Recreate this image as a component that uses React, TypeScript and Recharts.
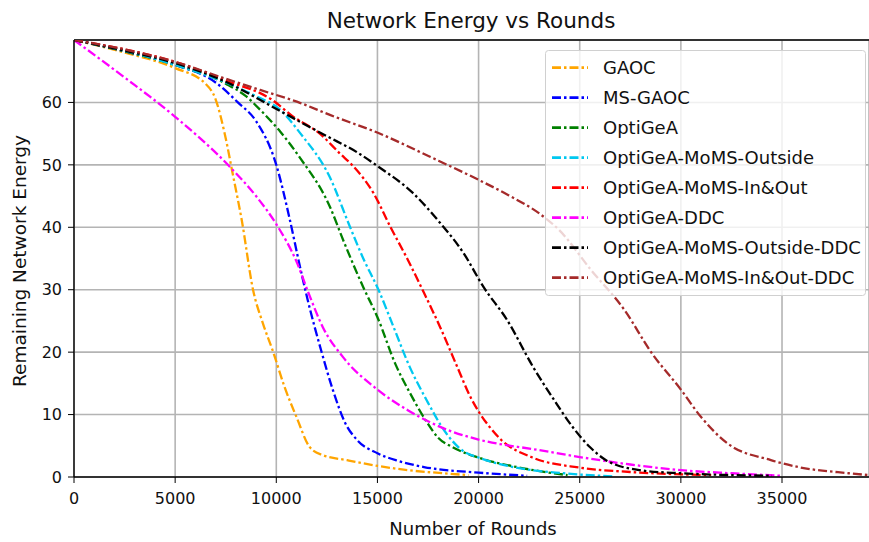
import React from 'react';
import { LineChart, Line, XAxis, YAxis, CartesianGrid, ReferenceLine } from 'recharts';

// [rounds, remaining energy]
const gaoc: [number, number][] = [
  [0, 70], [2500, 68], [5000, 65.5], [6500, 63], [7000, 60.5], [7450, 55], [7850, 48.5],
  [8300, 41], [8850, 30], [9350, 24.5], [9850, 20], [10400, 14.5], [11000, 9.6],
  [11650, 4.8], [12300, 3.5], [13500, 2.7], [14800, 1.9], [16500, 1.1], [18250, 0.6], [19500, 0.3],
];
const msGaoc: [number, number][] = [
  [0, 70], [2500, 68.2], [5000, 66], [7000, 63.2], [8100, 60], [9000, 57], [10000, 50],
  [10650, 41.5], [11150, 34], [11550, 28.4], [12250, 19.9], [12800, 13.9], [13400, 8.7],
  [14000, 5.9], [15000, 3.8], [16000, 2.6], [17300, 1.6], [20000, 0.7], [22400, 0.2],
];
const optigea: [number, number][] = [
  [0, 70], [2500, 68.2], [5000, 66], [7500, 63], [8500, 61], [9300, 58.5], [10200, 55.3],
  [11200, 51], [12650, 43.3], [13300, 38], [14300, 30.4], [15000, 25.6], [15900, 18],
  [16600, 13.5], [17400, 9], [18000, 6.3], [18700, 4.8], [20000, 3.1], [22200, 1.4], [24400, 0.3],
];
const optigeaOutside: [number, number][] = [
  [0, 70], [2500, 68.3], [5000, 66], [7500, 63.2], [9000, 61], [10200, 58.8], [11200, 55],
  [12650, 48], [13650, 40], [14300, 35], [15050, 30], [15800, 24], [16600, 17.6],
  [17400, 12.5], [18400, 7], [19100, 4.5], [20100, 3], [21700, 1.6], [24200, 0.6], [26700, 0.1],
];
const optigeaInOut: [number, number][] = [
  [0, 70], [2500, 68.5], [5000, 66.5], [7500, 63.5], [9800, 60.4], [10800, 57.8], [12150, 55],
  [13150, 51.8], [13800, 49.8], [14800, 45.5], [15650, 40], [16500, 34.8], [17300, 29.5],
  [18100, 24], [18950, 17.6], [19600, 12.8], [20100, 10], [20600, 7.8], [21100, 6],
  [22600, 3.2], [25000, 1.5], [27500, 0.8], [31500, 0.3],
];
const optigeaDdc: [number, number][] = [
  [0, 70], [2500, 64], [5000, 57.7], [7700, 49.7], [9000, 45], [10000, 40.5], [11000, 34.5],
  [11650, 29], [12300, 24], [13300, 19.2], [15000, 14], [16500, 10.7], [18500, 7.5],
  [20000, 6], [23000, 4.3], [25000, 3.2], [27500, 2], [30000, 1.1], [32500, 0.6], [35000, 0.2],
];
const optigeaOutsideDdc: [number, number][] = [
  [0, 70], [2500, 68.3], [5000, 66.3], [7500, 63.3], [9700, 59.5], [11000, 57.2], [12500, 54.6],
  [14000, 52], [15050, 49.7], [16750, 45.5], [18100, 40.7], [19250, 35.9], [20250, 30.4],
  [21400, 25.2], [22700, 17.6], [23700, 12.5], [24650, 8], [25500, 4.8], [26300, 2.7],
  [27950, 1.1], [30000, 0.6], [34500, 0.2],
];
const optigeaInOutDdc: [number, number][] = [
  [0, 70], [2500, 68.5], [5000, 66.5], [7500, 63.8], [9200, 62], [11200, 59.9], [12650, 58],
  [15050, 55.1], [17600, 51.3], [20000, 47.6], [21500, 45.1], [23050, 42.1], [24000, 39.5],
  [25550, 33.2], [27200, 26.8], [28550, 19.9], [30000, 14], [31000, 9.6], [32300, 5.4],
  [34450, 2.7], [35800, 1.6], [38300, 0.6], [39300, 0.3],
];

const xTicks = [0, 5000, 10000, 15000, 20000, 25000, 30000, 35000];
const yTicks = [0, 10, 20, 30, 40, 50, 60];

const series = [
  { name: 'GAOC', color: '#ffa500', data: gaoc },
  { name: 'MS-GAOC', color: '#0000ff', data: msGaoc },
  { name: 'OptiGeA', color: '#008000', data: optigea },
  { name: 'OptiGeA-MoMS-Outside', color: '#00c8f0', data: optigeaOutside },
  { name: 'OptiGeA-MoMS-In&Out', color: '#ff0000', data: optigeaInOut },
  { name: 'OptiGeA-DDC', color: '#ff00ff', data: optigeaDdc },
  { name: 'OptiGeA-MoMS-Outside-DDC', color: '#000000', data: optigeaOutsideDdc },
  { name: 'OptiGeA-MoMS-In&Out-DDC', color: '#a52a2a', data: optigeaInOutDdc },
];

const DASH = '9 3 2.5 3';
const FONT = '"DejaVu Sans", sans-serif';

const App: React.FC = () => {
  return (
    <div style={{ position: 'relative', width: 869, height: 542, fontFamily: FONT, background: '#fff' }}>
      <style>{'body{margin:0}'}</style>
      <LineChart width={869} height={542} margin={{ top: 40, right: 0, bottom: 35, left: 0 }}>
        <CartesianGrid stroke="#b4b4b4" strokeWidth={1.6} />
        <XAxis
          type="number"
          dataKey="r"
          domain={[0, 39300]}
          ticks={xTicks}
          interval={0}
          height={30}
          tickSize={6}
          tickMargin={10}
          axisLine={{ stroke: '#000', strokeWidth: 1.4 }}
          tickLine={{ stroke: '#000' }}
          tick={{ fontSize: 16, fill: '#111', fontFamily: FONT }}
          allowDataOverflow
        />
        <YAxis
          type="number"
          domain={[0, 70]}
          ticks={yTicks}
          interval={0}
          width={74}
          tickSize={6}
          tickMargin={6}
          axisLine={{ stroke: '#000', strokeWidth: 1.4 }}
          tickLine={{ stroke: '#000' }}
          tick={{ fontSize: 16, fill: '#111', fontFamily: FONT }}
          allowDataOverflow
        />
        <ReferenceLine y={70} stroke="#000" strokeWidth={1.4} />
        {series.map((s) => (
          <Line
            key={s.name}
            data={s.data.map(([r, v]) => ({ r, v }))}
            dataKey="v"
            type="monotone"
            stroke={s.color}
            strokeWidth={2.3}
            strokeDasharray={DASH}
            dot={false}
            isAnimationActive={false}
          />
        ))}
      </LineChart>

      <svg width={869} height={542} style={{ position: 'absolute', left: 0, top: 0, pointerEvents: 'none' }}>
        <text x={471} y={28} textAnchor="middle" fontSize={21.5} fill="#111" fontFamily={FONT}>
          Network Energy vs Rounds
        </text>
        <text x={473} y={535} textAnchor="middle" fontSize={18} fill="#111" fontFamily={FONT}>
          Number of Rounds
        </text>
        <text
          x={0}
          y={0}
          transform="translate(26,261) rotate(-90)"
          textAnchor="middle"
          fontSize={18.5}
          fill="#111"
          fontFamily={FONT}
        >
          Remaining Network Energy
        </text>
        <rect x={545.5} y={50.5} width={320} height={245} rx={3} fill="rgba(255,255,255,0.8)" stroke="#d0d0d0" />
        {series.map((s, i) => {
          const cy = 67.7 + i * 30;
          return (
            <g key={s.name}>
              <line x1={552} y1={cy} x2={588} y2={cy} stroke={s.color} strokeWidth={2.8} strokeDasharray={DASH} />
              <text x={603} y={cy + 6.5} fontSize={18} fill="#111" fontFamily={FONT}>
                {s.name}
              </text>
            </g>
          );
        })}
      </svg>
    </div>
  );
};

export default App;
